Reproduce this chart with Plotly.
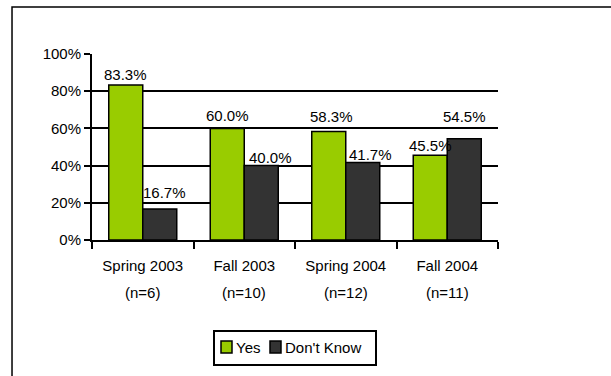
import plotly.graph_objects as go

# Survey responses by term
terms = ["Spring 2003", "Fall 2003", "Spring 2004", "Fall 2004"]
sample_sizes = ["(n=6)", "(n=10)", "(n=12)", "(n=11)"]
yes_pct = [83.3, 60.0, 58.3, 45.5]
dont_know_pct = [16.7, 40.0, 41.7, 54.5]
y_ticks = [0, 20, 40, 60, 80, 100]

YES_COLOR = "#99CC00"
DK_COLOR = "#333333"
FONT = dict(family="Liberation Sans, Arial, sans-serif", size=15, color="#000000")

BARGAP = 0.33
bar_w = (1 - BARGAP) / 2          # width of one bar, in category units
offsets = [-bar_w / 2, bar_w / 2]  # bar centres relative to the category centre

# hand-placed value labels: (x nudge px, height of label centre above bar top px)
yes_label_nudge = [(0, 11), (0.5, 12.5), (2.5, 15.5), (0, 9.5)]
dk_label_nudge = [(5, 16), (9.5, 8.5), (8, 7.5), (0, 22.5)]

fig = go.Figure()
for name, vals, color in [("Yes", yes_pct, YES_COLOR), ("Don't Know", dont_know_pct, DK_COLOR)]:
    fig.add_trace(go.Bar(
        name=name, x=terms, y=vals,
        marker=dict(color=color, line=dict(color="#000000", width=1.5)),
        showlegend=False,
    ))

for vals, off, nudges in [(yes_pct, offsets[0], yes_label_nudge),
                          (dont_know_pct, offsets[1], dk_label_nudge)]:
    for i, (v, (dx, dy)) in enumerate(zip(vals, nudges)):
        fig.add_annotation(x=i + off, y=v, xref="x", yref="y", text=f"{v:.1f}%",
                           showarrow=False, font=FONT, yanchor="middle",
                           xshift=dx, yshift=dy)

# second line of each category label
for t, n in zip(terms, sample_sizes):
    fig.add_annotation(x=t, y=-0.28, xref="x", yref="paper", text=n,
                       showarrow=False, font=FONT, yanchor="middle")

# outer frame
fig.add_shape(type="rect", xref="paper", yref="paper",
              x0=-0.197, x1=2.0, y0=-2.0, y1=1.2527,
              line=dict(color="#000000", width=1.5), fillcolor="rgba(0,0,0,0)")

# legend box with swatches
def px_x(X):
    return (X - 92) / 406

def px_y(Y):
    return (240 - Y) / 186

fig.add_shape(type="rect", xref="paper", yref="paper",
              x0=px_x(214), x1=px_x(376), y0=px_y(365), y1=px_y(331),
              line=dict(color="#000000", width=2), fillcolor="white")
for name, color, sx, tx in [("Yes", YES_COLOR, 221, 234), ("Don't Know", DK_COLOR, 270, 283)]:
    fig.add_shape(type="rect", xref="paper", yref="paper",
                  x0=px_x(sx), x1=px_x(sx + 11), y0=px_y(353), y1=px_y(341),
                  line=dict(color="#000000", width=1.5), fillcolor=color)
    fig.add_annotation(x=px_x(tx), y=px_y(347.5), xref="paper", yref="paper",
                       text=name, showarrow=False, font=FONT,
                       xanchor="left", yanchor="middle")

fig.update_layout(
    width=611, height=376,
    margin=dict(l=92, r=113, t=54, b=136),
    paper_bgcolor="white", plot_bgcolor="white",
    barmode="group", bargap=BARGAP, bargroupgap=0,
    font=FONT,
    showlegend=False,
    xaxis=dict(
        type="category", range=[-0.5, 3.5], tickangle=0,
        tickson="boundaries", ticks="outside", ticklen=7, tickwidth=2, tickcolor="#000000",
        showline=True, linecolor="#000000", linewidth=2,
        showgrid=False, tickfont=FONT, ticklabelstandoff=11,
    ),
    yaxis=dict(
        range=[0, 100], tickvals=y_ticks, ticktext=[f"{v}%" for v in y_ticks],
        ticks="outside", ticklen=6, tickwidth=2, tickcolor="#000000",
        showline=True, linecolor="#000000", linewidth=2,
        showgrid=True, gridcolor="#000000", gridwidth=2,
        zeroline=False, tickfont=FONT,
    ),
)

fig.write_html("out.html")
